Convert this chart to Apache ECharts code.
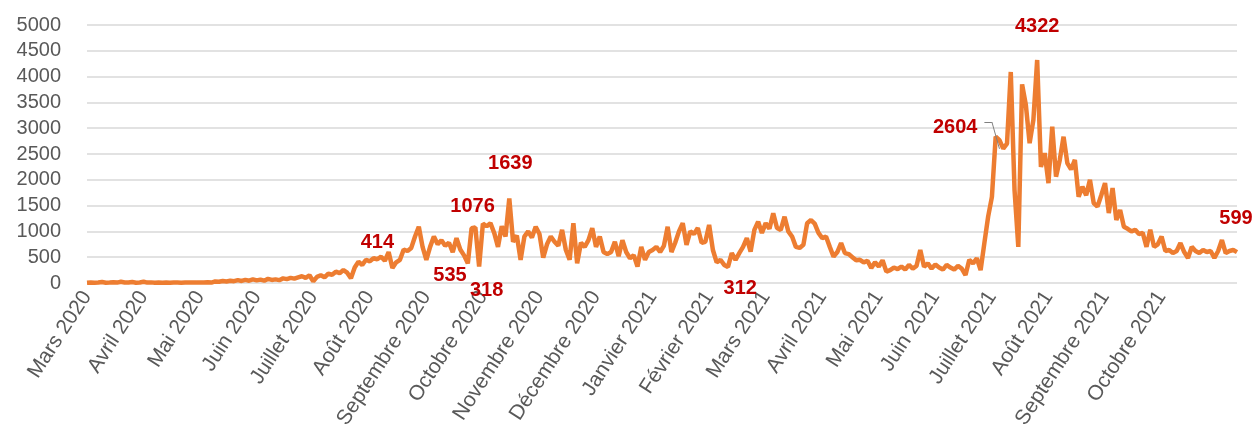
<!DOCTYPE html>
<html lang="fr">
<head>
    <meta charset="utf-8"/>
    <title>Evolution quotidienne</title>
    <script src="https://cdn.jsdelivr.net/npm/echarts/dist/echarts.min.js"></script>
    <style>
        html, body { margin: 0; padding: 0; background: #ffffff; }
        #chart { width: 1255px; height: 428px; }
    </style>
</head>
<body>
    <div id="chart"></div>
    <script>
        // one label every 15 points (2 days per point)
        const monthLabels = ['Mars 2020', 'Avril 2020', 'Mai 2020', 'Juin 2020', 'Juillet 2020', 'Août 2020',
            'Septembre 2020', 'Octobre 2020', 'Novembre 2020', 'Décembre 2020', 'Janvier 2021', 'Février 2021',
            'Mars 2021', 'Avril 2021', 'Mai 2021', 'Juin 2021', 'Juillet 2021', 'Août 2021',
            'Septembre 2021', 'Octobre 2021'];

        const dailyValues = [
            5, 10, 5, 8, 20, 6, 10, 15, 8, 25,
            10, 8, 20, 6, 10, 25, 8, 12, 6, 8,
            5, 8, 6, 10, 8, 6, 10, 8, 12, 10,
            8, 10, 15, 8, 30, 25, 40, 30, 45, 35,
            55, 40, 60, 45, 70, 50, 65, 45, 80, 60,
            70, 55, 90, 75, 100, 85, 110, 130, 100, 150,
            30, 120, 150, 110, 180, 160, 220, 190, 250, 200,
            90, 300, 414, 350, 450, 420, 480, 460, 510, 430,
            600, 290, 400, 450, 650, 620, 680, 900, 1090, 700,
            450, 700, 900, 750, 830, 720, 780, 600, 870, 650,
            535, 380, 1060, 1076, 318, 1150, 1100, 1160, 970, 700,
            1100, 900, 1639, 800, 920, 450, 900, 1000, 880, 1090,
            950, 490, 750, 900, 800, 720, 1030, 640, 450, 1160,
            380, 780, 700, 830, 1060, 700, 900, 600, 560, 600,
            800, 520, 830, 600, 480, 540, 320, 700, 450, 600,
            640, 700, 600, 720, 1090, 600, 780, 1000, 1160, 740,
            1000, 950, 1065, 780, 800, 1125, 640, 400, 450, 350,
            312, 580, 450, 580, 700, 870, 610, 1030, 1190, 970,
            1160, 1050, 1350, 1065, 1030, 1285, 1000, 900, 700, 680,
            740, 1160, 1220, 1150, 970, 870, 900, 700, 510, 600,
            775, 580, 560, 500, 440, 450, 400, 430, 290, 400,
            320, 440, 220, 250, 300, 270, 320, 260, 350, 280,
            330, 640, 316, 380, 280, 360, 300, 260, 350, 300,
            260, 330, 280, 155, 450, 380, 480, 250, 775, 1285,
            1670, 2835, 2770, 2604, 2700, 4090, 1800, 700, 3850, 3450,
            2710, 3160, 4322, 2250, 2520, 1935, 3030, 2060, 2385, 2835,
            2325, 2200, 2385, 1670, 1865, 1700, 2000, 1550, 1480, 1700,
            1935, 1355, 1840, 1220, 1415, 1090, 1050, 1000, 1030, 950,
            970, 700, 1030, 700, 750, 900, 620, 640, 580, 620,
            775, 600, 485, 700, 620, 580, 640, 600, 620, 485,
            620, 833, 580, 620, 640, 599
        ];

        const labelTexts = ['414', '535', '318', '1076', '1639', '312', '2604', '4322', '599'];

        const chart = echarts.init(document.getElementById('chart'));
        const categories = dailyValues.map(function (v, i) { return i; });

        // where each value label sits: point index + pixel offset from the zero line
        const labelPlaces = [
            [77, 0, -41], [96, 1, -8], [106, 0, 7], [102, 1, -77], [112, 1, -120],
            [173, 1, 5], [230, 1, -156], [252, 0, -257], [305, -1, -65]
        ];

        const option = {
            animation: false,
            grid: { left: 87, right: 18, top: 25, bottom: 145, outerBoundsMode: 'none' },
            xAxis: {
                type: 'category',
                data: categories,
                boundaryGap: false,
                axisLine: { show: false },
                axisTick: { show: false },
                axisLabel: {
                    interval: function (index) { return index % 15 === 0; },
                    formatter: function (value, index) { return monthLabels[index / 15] || ''; },
                    rotate: 57,
                    margin: 10,
                    color: '#595959',
                    fontSize: 21,
                    fontFamily: 'Liberation Sans'
                }
            },
            yAxis: {
                type: 'value',
                min: 0,
                max: 5000,
                interval: 500,
                axisLine: { show: false },
                axisTick: { show: false },
                axisLabel: {
                    formatter: function (v) { return String(v); },
                    color: '#595959',
                    fontSize: 20,
                    fontFamily: 'Liberation Sans',
                    margin: 26
                },
                splitLine: { lineStyle: { color: '#d9d9d9', width: 1.5 } }
            },
            series: [{
                type: 'line',
                data: dailyValues,
                showSymbol: false,
                lineStyle: { color: '#ED7D31', width: 4.5 },
                itemStyle: { color: '#ED7D31' },
                markPoint: {
                    silent: true,
                    symbol: 'circle',
                    symbolSize: 0,
                    label: {
                        show: true,
                        color: '#C00000',
                        fontWeight: 'bold',
                        fontSize: 20,
                        fontFamily: 'Liberation Sans'
                    },
                    data: labelPlaces.map(function (p, k) {
                        return {
                            coord: [p[0], 0],
                            label: { formatter: labelTexts[k], offset: [p[1], p[2]] }
                        };
                    })
                },
                markLine: {
                    silent: true,
                    symbol: ['none', 'none'],
                    label: { show: false },
                    lineStyle: { color: '#808080', width: 1, type: 'solid' },
                    data: [
                        [{ coord: [238, 3120] }, { coord: [240, 3120] }],
                        [{ coord: [240, 3120] }, { coord: [242, 2600] }]
                    ]
                }
            }]
        };
        chart.setOption(option);
    </script>
</body>
</html>
